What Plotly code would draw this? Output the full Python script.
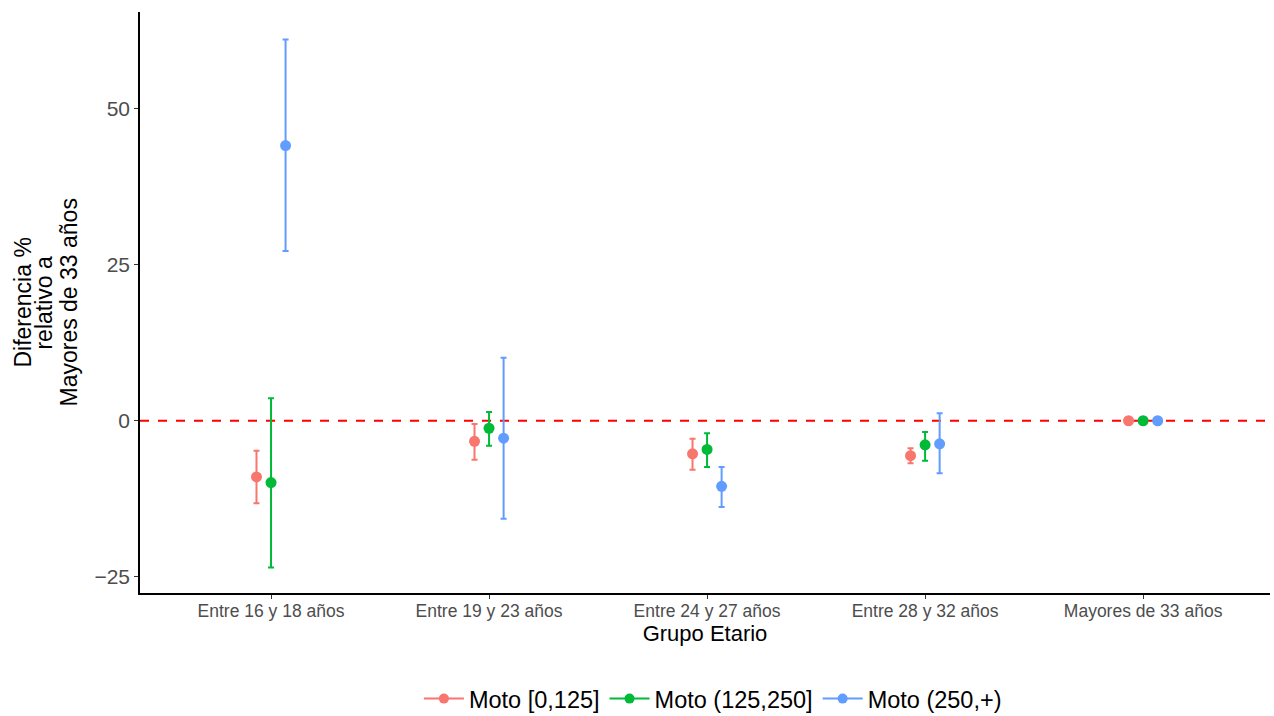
import plotly.graph_objects as go

# Age groups on the x axis
grupos = ["Entre 16 y 18 años", "Entre 19 y 23 años", "Entre 24 y 27 años",
          "Entre 28 y 32 años", "Mayores de 33 años"]

series = ["Moto [0,125]", "Moto (125,250]", "Moto (250,+)"]
colores = ["#F8766D", "#00BA38", "#619CFF"]

# Point estimates (% difference relative to the reference group)
est_0_125 = [-9.0, -3.3, -5.3, -5.6, 0.0]
est_125_250 = [-9.9, -1.2, -4.6, -3.85, 0.0]
est_250_mas = [44.1, -2.8, -10.5, -3.7, 0.0]

# Confidence interval bounds
sup_0_125 = [-4.8, -0.5, -2.9, -4.4, 0.0]
inf_0_125 = [-13.2, -6.25, -7.85, -6.8, 0.0]
sup_125_250 = [3.6, 1.4, -2.0, -1.8, 0.0]
inf_125_250 = [-23.5, -4.0, -7.4, -6.4, 0.0]
sup_250_mas = [61.1, 10.1, -7.4, 1.2, 0.0]
inf_250_mas = [27.2, -15.7, -13.8, -8.4, 0.0]

estimaciones = [est_0_125, est_125_250, est_250_mas]
superiores = [sup_0_125, sup_125_250, sup_250_mas]
inferiores = [inf_0_125, inf_125_250, inf_250_mas]

y_ticks = [-25, 0, 25, 50]

# y-axis title, one line per entry
titulo_y = ["Diferencia %", "relativo a", "Mayores de 33 años"]

# horizontal dodge of the three series inside each group
desplazamientos = [-0.0667, 0.0, 0.0667]

fig = go.Figure()

fig.add_shape(type="line", xref="paper", x0=0, x1=1, yref="y", y0=0, y1=0,
              line=dict(color="#FF0000", width=2, dash="dash"), layer="below")

for nombre, color, est, sup, inf, dx in zip(series, colores, estimaciones,
                                            superiores, inferiores, desplazamientos):
    xs = [i + dx for i in range(len(grupos))]
    err_up = [s - e for s, e in zip(sup, est)]
    err_dn = [e - l for e, l in zip(est, inf)]
    fig.add_trace(go.Scatter(
        x=xs, y=est, mode="markers", name=nombre, showlegend=False,
        marker=dict(color=color, size=11),
        error_y=dict(type="data", symmetric=False, array=err_up,
                     arrayminus=err_dn, color=color, thickness=2, width=3),
    ))
    # legend key: point on a short line segment
    fig.add_trace(go.Scatter(
        x=[None], y=[None], mode="lines+markers", name=nombre,
        line=dict(color=color, width=2), marker=dict(color=color, size=10),
    ))

# stacked, rotated y-axis title lines with tight line spacing
for linea, xpos in zip(titulo_y, [-0.1044, -0.0858, -0.0637]):
    fig.add_annotation(
        text=linea, xref="paper", yref="paper", x=xpos, y=0.5,
        xanchor="center", yanchor="middle", textangle=-90, showarrow=False,
        font=dict(size=23, color="#000000"),
    )

fig.update_layout(
    width=1274, height=716,
    paper_bgcolor="white", plot_bgcolor="white",
    margin=dict(l=140, r=4, t=12, b=123),
    font=dict(family="Liberation Sans, Arial, sans-serif", color="#000000"),
    showlegend=True,
    legend=dict(orientation="h", x=0.507, xanchor="center",
                yref="container", y=0.024, yanchor="middle",
                font=dict(size=23.5, color="#000000"), itemwidth=40,
                tracegroupgap=0),
)

fig.update_xaxes(
    range=[-0.601, 4.582], tickmode="array", tickvals=list(range(len(grupos))),
    ticktext=grupos, showgrid=False, zeroline=False, automargin=False,
    showline=True, linecolor="#000000", linewidth=1.5,
    ticks="outside", ticklen=4, tickcolor="#333333", ticklabelstandoff=-3,
    tickfont=dict(size=17.5, color="#4D4D4D"),
    title=dict(text="Grupo Etario", font=dict(size=22, color="#000000"), standoff=2),
)

fig.update_yaxes(
    range=[-27.6, 65.5], tickmode="array", tickvals=y_ticks,
    ticktext=["\u221225" if t < 0 else str(t) for t in y_ticks],
    showgrid=False, zeroline=False, automargin=False,
    showline=True, linecolor="#000000", linewidth=1.5,
    ticks="outside", ticklen=4, tickcolor="#333333",
    tickfont=dict(size=21, color="#4D4D4D"),
)

fig.write_html("out.html")
